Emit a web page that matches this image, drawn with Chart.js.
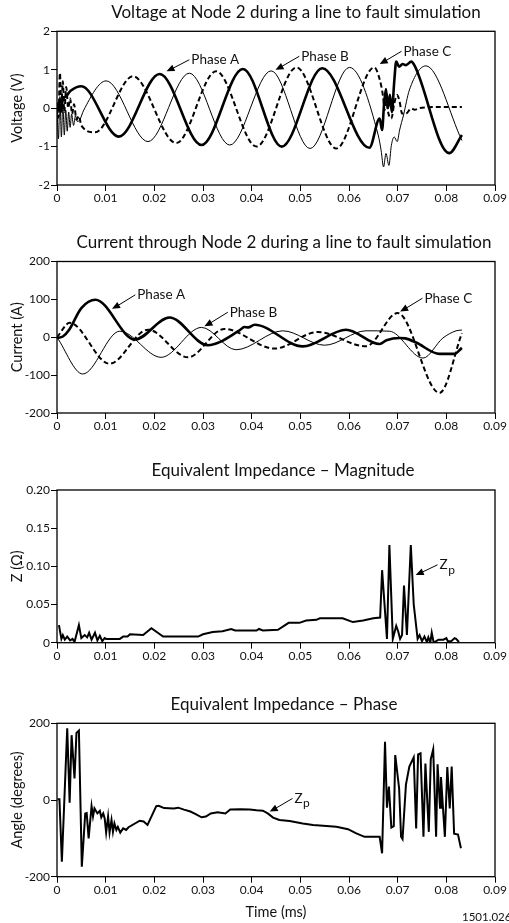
<!DOCTYPE html>
<html>
<head>
<meta charset="utf-8">
<script src="https://cdn.jsdelivr.net/npm/chart.js@4.4.1/dist/chart.umd.min.js"></script>
<style>
html, body { margin: 0; padding: 0; background: #fff; }
body { width: 509px; height: 923px; position: relative; overflow: hidden; }
canvas { position: absolute; left: 0; }
</style>
</head>
<body>
<canvas id="voltChart" width="509" height="225" style="top:0px"></canvas>
<canvas id="currChart" width="509" height="225" style="top:225px"></canvas>
<canvas id="magChart" width="509" height="215" style="top:450px"></canvas>
<canvas id="phaseChart" width="509" height="258" style="top:665px"></canvas>
<script>
// time axis
const xTickVals = [0, 0.01, 0.02, 0.03, 0.04, 0.05, 0.06, 0.07, 0.08, 0.09];
const xTickLabels = ['0', '0.01', '0.02', '0.03', '0.04', '0.05', '0.06', '0.07', '0.08', '0.09'];

// Voltage at node 2
const voltTicks = [-2, -1, 0, 1, 2];
const voltTickLabels = ['-2', '-1', '0', '1', '2'];
const voltAT = [0, 0.0004, 0.0008, 0.0012, 0.0018, 0.0028, 0.005, 0.0127, 0.0211, 0.0297, 0.0382, 0.0462, 0.0545, 0.0642,
    0.0663, 0.0668, 0.0672, 0.0676, 0.068, 0.0684, 0.0688, 0.0693, 0.0697, 0.0703, 0.071, 0.0717, 0.0728, 0.0735, 0.0806, 0.0832];
const voltA = [0, 0.15, -0.1, 0.22, 0.3, 0.45, 0.57, -0.74, 0.89, -0.96, 1.02, -1.0, 1.04, -1.03,
    -0.27, -0.57, 0.1, 0.5, 0.0, 0.35, -0.1, 0.7, 1.21, 1.08, 1.15, 1.12, 1.21, 1.1, -1.17, -0.7];
const voltBT = [0, 0.0003, 0.0006, 0.0009, 0.0012, 0.0015, 0.0018, 0.0021, 0.0024, 0.0027, 0.003, 0.0034, 0.0038, 0.0042, 0.0047, 0.0055,
    0.0101, 0.0187, 0.0272, 0.0355, 0.044, 0.052, 0.0601, 0.066, 0.0666, 0.0671, 0.0676, 0.0682, 0.0687, 0.0693, 0.0699, 0.0704,
    0.0712, 0.0724, 0.0758, 0.0832];
const voltB = [0, -0.8, 0.3, -0.75, 0.1, -0.7, -0.05, -0.6, -0.1, -0.5, -0.15, -0.45, -0.2, -0.35, -0.3, -0.05,
    0.71, -0.87, 0.91, -0.96, 0.97, -1.05, 1.06, -0.7, -1.1, -1.53, -1.18, -1.49, -0.97, -0.75, -0.87, -0.57,
    -0.18, 0.47, 1.1, -0.84];
const voltCT = [0, 0.0003, 0.0006, 0.0009, 0.0012, 0.0015, 0.0019, 0.0023, 0.0027, 0.0031, 0.0035, 0.004, 0.0045, 0.005, 0.0078,
    0.0156, 0.0245, 0.0327, 0.041, 0.0492, 0.0574, 0.0652, 0.0663, 0.067, 0.0673, 0.0676, 0.0679, 0.0683, 0.0687, 0.0693,
    0.0699, 0.0704, 0.0709, 0.0717, 0.0728, 0.0735, 0.0745, 0.076, 0.078, 0.0832];
const voltC = [0, -0.25, 0.92, 0.05, 0.7, -0.1, 0.55, 0.0, 0.25, -0.15, 0.1, -0.3, -0.2, -0.45, -0.63,
    0.83, -0.91, 0.96, -1.0, 1.06, -1.05, 1.06, 0.75, 0.3, -0.05, 0.4, 0.0, -0.22, -0.27, 0.12,
    0.34, 0.17, -0.14, -0.14, -0.01, -0.04, 0.0, 0.02, 0.03, 0.03];

// Current through node 2
const currTicks = [-200, -100, 0, 100, 200];
const currTickLabels = ['-200', '-100', '0', '100', '200'];
const currAT = [0, 0.0012, 0.0025, 0.005, 0.0079, 0.016, 0.0231, 0.031, 0.0375, 0.0385, 0.0393, 0.0406, 0.0505, 0.0594,
    0.0663, 0.0677, 0.0704, 0.0716, 0.0738, 0.0786, 0.0816, 0.0832];
const currA = [-2, 2, 20, 77, 99, -6, 52, -21, 18, 27, 26, 33, -24, 20,
    -18, -8, -2, -3, -14, -44, -44, -28];
const currBT = [0, 0.0053, 0.0129, 0.0214, 0.0297, 0.0368, 0.0464, 0.055, 0.0635, 0.0683, 0.0752, 0.0793, 0.082, 0.0832];
const currB = [0, -97, 16, -53, 26, -33, 17, -21, 17, 16, -55, -2, 17, 19];
const currCT = [0, 0.0026, 0.0108, 0.0187, 0.0269, 0.0344, 0.0447, 0.0536, 0.0635, 0.07, 0.0786, 0.0832];
const currC = [0, 38, -70, 20, -53, 22, -30, 14, -24, 64, -147, 11];

// Equivalent impedance magnitude
const magTicks = [0, 0.05, 0.1, 0.15, 0.2];
const magTickLabels = ['0', '0.05', '0.10', '0.15', '0.20'];
const magT = [0.0004, 0.0009, 0.0012, 0.0016, 0.0021, 0.0027, 0.0032, 0.0036, 0.0045, 0.005, 0.0057, 0.0062, 0.0066, 0.0071,
    0.0078, 0.0083, 0.0088, 0.0093, 0.0098, 0.0101, 0.0129, 0.0136, 0.0145, 0.015, 0.0177, 0.0194, 0.0218, 0.029, 0.03,
    0.032, 0.034, 0.0358, 0.0366, 0.041, 0.0415, 0.0423, 0.0454, 0.0476, 0.0498, 0.0512, 0.0533, 0.054, 0.0587, 0.0608,
    0.0629, 0.065, 0.0664, 0.0668, 0.0678, 0.0683, 0.069, 0.0697, 0.0701, 0.0705, 0.0709, 0.0713, 0.0719, 0.0727, 0.0733,
    0.0741, 0.0745, 0.075, 0.0755, 0.076, 0.0763, 0.0767, 0.077, 0.0774, 0.0784, 0.0794, 0.08, 0.0803, 0.081, 0.0817,
    0.082, 0.0826];
const magZ = [0.023, 0.005, 0.01, 0.004, 0.008, 0.003, 0.005, 0.001, 0.023, 0.006, 0.01, 0.007, 0.013, 0.004,
    0.013, 0.003, 0.009, 0.002, 0.006, 0.005, 0.005, 0.008, 0.008, 0.011, 0.01, 0.019, 0.008, 0.008, 0.011,
    0.014, 0.015, 0.018, 0.016, 0.016, 0.018, 0.016, 0.017, 0.026, 0.026, 0.029, 0.03, 0.032, 0.032, 0.027,
    0.029, 0.032, 0.033, 0.095, 0.005, 0.128, 0.005, 0.022, 0.015, 0.005, 0.01, 0.075, 0.01, 0.128, 0.05,
    0.005, 0.01, 0.002, 0.008, 0.001, 0.007, 0.0, 0.013, 0.0, 0.004, 0.004, 0.006, 0.002, 0.002, 0.006,
    0.005, 0.001];

// Equivalent impedance phase
const angTicks = [-200, 0, 200];
const angTickLabels = ['-200', '0', '200'];
const angT = [0.0001, 0.0005, 0.001, 0.0021, 0.0026, 0.003, 0.0036, 0.004, 0.0045, 0.0051, 0.0058, 0.0061, 0.0065, 0.0071,
    0.0074, 0.0077, 0.0083, 0.0088, 0.0091, 0.0095, 0.0098, 0.0101, 0.0105, 0.0108, 0.0112, 0.0115, 0.0118, 0.0122,
    0.0125, 0.013, 0.0136, 0.0142, 0.0147, 0.017, 0.0178, 0.0186, 0.0204, 0.0209, 0.022, 0.024, 0.0249, 0.0261, 0.0274,
    0.0284, 0.0297, 0.0306, 0.0316, 0.033, 0.0346, 0.0356, 0.0377, 0.0396, 0.041, 0.0423, 0.0433, 0.0444, 0.0457,
    0.0478, 0.0505, 0.0526, 0.0547, 0.0574, 0.0598, 0.0615, 0.0632, 0.0663, 0.0668, 0.0674, 0.0678, 0.0682, 0.0687,
    0.0692, 0.0695, 0.0703, 0.0707, 0.071, 0.0717, 0.0724, 0.0733, 0.0738, 0.0742, 0.0747, 0.0753, 0.0757, 0.0764,
    0.0768, 0.0773, 0.0779, 0.0782, 0.0787, 0.0789, 0.0797, 0.0802, 0.0807, 0.0811, 0.0816, 0.0824, 0.083];
const angDeg = [2, 2, -161, 187, -7, 169, 56, 175, 181, -174, -35, -34, -100, -16,
    -43, -22, -35, -28, -45, -35, -48, -85, -43, -85, -52, -83, -61, -78,
    -70, -85, -74, -78, -71, -54, -56, -65, -16, -15, -21, -22, -20, -25, -30,
    -36, -45, -43, -35, -32, -35, -25, -24, -25, -27, -28, -35, -46, -52,
    -55, -61, -65, -67, -70, -76, -87, -96, -96, -139, 152, -20, 35, -72,
    -68, 117, 30, -96, -102, 40, 87, 111, -74, 119, 122, -96, 95, -83,
    106, 132, -96, 93, -20, 60, -96, 86, -22, 87, -88, -90, -126];

const FONT = 'Lato, "Liberation Sans", sans-serif';
const INK = '#111';

const pts = (ts, vs) => ts.map((t, i) => ({ x: t, y: vs[i] }));

// frame, title and arrow labels
const panelPlugin = {
    id: 'panel',
    afterDraw(chart, args, opts) {
        const { ctx, chartArea: a, scales: { x, y } } = chart;
        ctx.save();
        ctx.strokeStyle = '#000';
        ctx.lineWidth = 1.3;
        ctx.strokeRect(a.left, a.top, a.right - a.left, a.bottom - a.top);

        ctx.fillStyle = INK;
        ctx.font = '17px ' + FONT;
        ctx.textAlign = 'center';
        ctx.textBaseline = 'middle';
        ctx.fillText(opts.title, opts.titleX, a.top - 19);

        (opts.notes || []).forEach(n => {
            const tx = x.getPixelForValue(n.tx), ty = y.getPixelForValue(n.ty);
            const hx = x.getPixelForValue(n.hx), hy = y.getPixelForValue(n.hy);
            const ang = Math.atan2(hy - ty, hx - tx);
            ctx.strokeStyle = '#000';
            ctx.lineWidth = 1;
            ctx.beginPath();
            ctx.moveTo(tx - 2, ty);
            ctx.lineTo(hx - 6 * Math.cos(ang), hy - 6 * Math.sin(ang));
            ctx.stroke();
            ctx.beginPath();
            ctx.moveTo(hx, hy);
            ctx.lineTo(hx - 8 * Math.cos(ang) + 3.5 * Math.sin(ang), hy - 8 * Math.sin(ang) - 3.5 * Math.cos(ang));
            ctx.lineTo(hx - 8 * Math.cos(ang) - 3.5 * Math.sin(ang), hy - 8 * Math.sin(ang) + 3.5 * Math.cos(ang));
            ctx.closePath();
            ctx.fillStyle = '#000';
            ctx.fill();
            ctx.fillStyle = INK;
            ctx.textAlign = 'left';
            ctx.font = '13.5px ' + FONT;
            ctx.fillText(n.text, tx, ty);
            if (n.sub) {
                const w = ctx.measureText(n.text).width;
                ctx.font = '12px ' + FONT;
                ctx.fillText(n.sub, tx + w + 0.5, ty + 5);
            }
        });

        if (opts.code) {
            ctx.font = '11.5px ' + FONT;
            ctx.textAlign = 'left';
            ctx.fillText(opts.code, 462, chart.height - 6);
        }
        ctx.restore();
    }
};

const makeChart = (id, datasets, yTicks, yLabels, yTitle, panel, box) => {
    const tickFont = { family: FONT, size: 12 };
    return new Chart(document.getElementById(id), {
        type: 'line',
        data: { datasets },
        options: {
            responsive: false,
            animation: false,
            devicePixelRatio: 1,
            layout: { padding: { top: box.top, right: 14, left: 0, bottom: 0 } },
            elements: { point: { radius: 0 } },
            plugins: { legend: { display: false }, tooltip: { enabled: false }, panel },
            scales: {
                x: {
                    type: 'linear',
                    min: 0,
                    max: 0.09,
                    afterBuildTicks: s => { s.ticks = xTickVals.map(v => ({ value: v })); },
                    afterFit: s => { s.height = box.xh; },
                    ticks: { callback: (v, i) => xTickLabels[i], font: tickFont, color: INK, padding: 0, maxRotation: 0, autoSkip: false },
                    grid: { drawOnChartArea: false, drawTicks: true, tickLength: 6, color: '#000' },
                    border: { display: false },
                    title: { display: !!box.xTitle, text: box.xTitle || '', font: { family: FONT, size: 14.5 }, color: INK, padding: { top: 0, bottom: 2 } }
                },
                y: {
                    min: yTicks[0],
                    max: yTicks[yTicks.length - 1],
                    afterBuildTicks: s => { s.ticks = yTicks.map(v => ({ value: v })); },
                    afterFit: s => { s.width = 57; },
                    ticks: { callback: (v, i) => yLabels[i], font: tickFont, color: INK, padding: 1 },
                    grid: { drawOnChartArea: false, drawTicks: true, tickLength: 6, color: '#000' },
                    border: { display: false },
                    title: { display: true, text: yTitle, font: { family: FONT, size: 14.5 }, color: INK, padding: { top: 9, bottom: 0 } }
                }
            }
        },
        plugins: [panelPlugin]
    });
};

const thick = { borderColor: '#000', borderWidth: 2.6, cubicInterpolationMode: 'monotone', fill: false };
const thin = { borderColor: '#000', borderWidth: 1, cubicInterpolationMode: 'monotone', fill: false };
const dashed = { borderColor: '#000', borderWidth: 2, borderDash: [5, 3], cubicInterpolationMode: 'monotone', fill: false };

makeChart('voltChart', [
    { ...thin, label: 'Phase B', data: pts(voltBT, voltB) },
    { ...dashed, label: 'Phase C', data: pts(voltCT, voltC) },
    { ...thick, label: 'Phase A', data: pts(voltAT, voltA) }
], voltTicks, voltTickLabels, 'Voltage (V)', {
    title: 'Voltage at Node 2 during a line to fault simulation', titleX: 296,
    notes: [
        { text: 'Phase A', tx: 0.0276, ty: 1.26, hx: 0.0225, hy: 0.96 },
        { text: 'Phase B', tx: 0.0502, ty: 1.35, hx: 0.0449, hy: 1.0 },
        { text: 'Phase C', tx: 0.0712, ty: 1.48, hx: 0.0663, hy: 1.15 }
    ]
}, { top: 31.3, xh: 40 });

makeChart('currChart', [
    { ...thin, label: 'Phase B', data: pts(currBT, currB) },
    { ...dashed, label: 'Phase C', data: pts(currCT, currC) },
    { ...thick, label: 'Phase A', data: pts(currAT, currA) }
], currTicks, currTickLabels, 'Current (A)', {
    title: 'Current through Node 2 during a line to fault simulation', titleX: 284,
    notes: [
        { text: 'Phase A', tx: 0.0165, ty: 112, hx: 0.0113, hy: 75 },
        { text: 'Phase B', tx: 0.0355, ty: 66, hx: 0.0303, hy: 29 },
        { text: 'Phase C', tx: 0.0755, ty: 103, hx: 0.0705, hy: 68 }
    ]
}, { top: 36.5, xh: 37 });

makeChart('magChart', [
    { borderColor: '#000', borderWidth: 2, tension: 0, fill: false, label: 'Zp', data: pts(magT, magZ) }
], magTicks, magTickLabels, 'Z (Ω)', {
    title: 'Equivalent Impedance \u2013 Magnitude', titleX: 283,
    notes: [{ text: 'Z', sub: 'p', tx: 0.0786, ty: 0.102, hx: 0.0737, hy: 0.0887 }]
}, { top: 40, xh: 22.3 });

makeChart('phaseChart', [
    { borderColor: '#000', borderWidth: 2, tension: 0, fill: false, label: 'Zp', data: pts(angT, angDeg) }
], angTicks, angTickLabels, 'Angle (degrees)', {
    title: 'Equivalent Impedance \u2013 Phase', titleX: 284,
    notes: [{ text: 'Z', sub: 'p', tx: 0.0488, ty: 4, hx: 0.0437, hy: -30 }],
    code: '1501.0260'
}, { top: 58.3, xh: 46.3, xTitle: 'Time (ms)' });
</script>
</body>
</html>
